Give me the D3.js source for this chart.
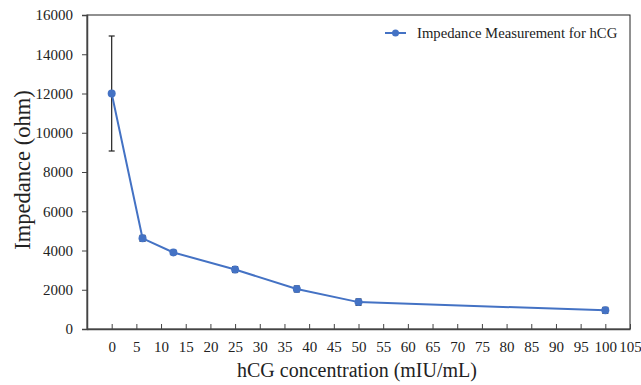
<!DOCTYPE html>
<html><head><meta charset="utf-8">
<script src="https://cdn.jsdelivr.net/npm/d3@7"></script>
<style>body{margin:0;background:#fff;}svg{display:block;}</style>
</head><body>
<svg id="c" width="641" height="385"></svg>
<script>
const concentrations = [0, 6.25, 12.5, 25, 37.5, 50, 100];
const impedance = [12000, 4620, 3900, 3030, 2040, 1370, 950];
const errors = [2930, 150, 110, 150, 150, 160, 150];
const xTicks = [0,5,10,15,20,25,30,35,40,45,50,55,60,65,70,75,80,85,90,95,100,105];
const yTicks = [0,2000,4000,6000,8000,10000,12000,14000,16000];
const seriesName = "Impedance Measurement for hCG";

const svg = d3.select("#c");
const m = {l:87, r:630, t:15, b:329};
const x = d3.scaleLinear().domain([-5,105]).range([m.l, m.r]);
const y = d3.scaleLinear().domain([0,16000]).range([m.b, m.t]);
const font = "'Liberation Serif','Times New Roman',serif";
const blue = "#4472C4";

// frame
svg.append("rect").attr("x",m.l).attr("y",m.t).attr("width",m.r-m.l).attr("height",m.b-m.t)
  .attr("fill","none").attr("stroke","#222").attr("stroke-width",1);

// y axis
const ya = svg.append("g").attr("transform",`translate(${m.l},0)`)
  .call(d3.axisLeft(y).tickValues(yTicks).tickSize(5).tickPadding(9).tickFormat(d3.format("d")));
ya.select(".domain").attr("stroke","#444").attr("stroke-width",1.5);
ya.selectAll(".tick line").attr("stroke","#444");
ya.selectAll("text").style("font-family",font).attr("font-size",15).attr("fill","#222");

// x axis (ticks pointing inward/up)
const xa = svg.append("g").attr("transform",`translate(0,${m.b})`)
  .call(d3.axisBottom(x).tickValues(xTicks).tickSizeInner(-5).tickSizeOuter(0).tickPadding(12).tickFormat(d3.format("d")));
xa.select(".domain").attr("stroke","#444").attr("stroke-width",1.5);
xa.selectAll(".tick line").attr("stroke","#444");
xa.selectAll("text").style("font-family",font).attr("font-size",15).attr("fill","#222");

const data = concentrations.map((c,i)=>({c, v:impedance[i], e:errors[i]}));

// error bars
const eb = svg.append("g").attr("stroke","#222").attr("stroke-width",1.2);
data.forEach(d=>{
  eb.append("line").attr("x1",x(d.c)).attr("x2",x(d.c)).attr("y1",y(d.v-d.e)).attr("y2",y(d.v+d.e));
  eb.append("line").attr("x1",x(d.c)-3).attr("x2",x(d.c)+3).attr("y1",y(d.v-d.e)).attr("y2",y(d.v-d.e));
  eb.append("line").attr("x1",x(d.c)-3).attr("x2",x(d.c)+3).attr("y1",y(d.v+d.e)).attr("y2",y(d.v+d.e));
});

// line
svg.append("path").datum(data)
  .attr("d", d3.line().x(d=>x(d.c)).y(d=>y(d.v)))
  .attr("fill","none").attr("stroke",blue).attr("stroke-width",2);
svg.append("g").selectAll("circle").data(data).join("circle")
  .attr("cx",d=>x(d.c)).attr("cy",d=>y(d.v)).attr("r",4).attr("fill",blue);

// legend
const lg = svg.append("g").attr("transform","translate(385,33)");
lg.append("line").attr("x1",0).attr("x2",21).attr("y1",0).attr("y2",0).attr("stroke",blue).attr("stroke-width",2);
lg.append("circle").attr("cx",10.5).attr("cy",0).attr("r",3.5).attr("fill",blue);
lg.append("text").attr("x",32).attr("y",5).text(seriesName)
  .style("font-family",font).attr("font-size",14.7).attr("fill","#222");

// axis titles
svg.append("text").attr("x",357).attr("y",377).attr("text-anchor","middle")
  .style("font-family",font).attr("font-size",20).attr("fill","#222").text("hCG concentration (mIU/mL)");
svg.append("text").attr("transform","translate(30,170) rotate(-90)").attr("text-anchor","middle")
  .style("font-family",font).attr("font-size",22.5).attr("fill","#222").text("Impedance (ohm)");
</script>
</body></html>
